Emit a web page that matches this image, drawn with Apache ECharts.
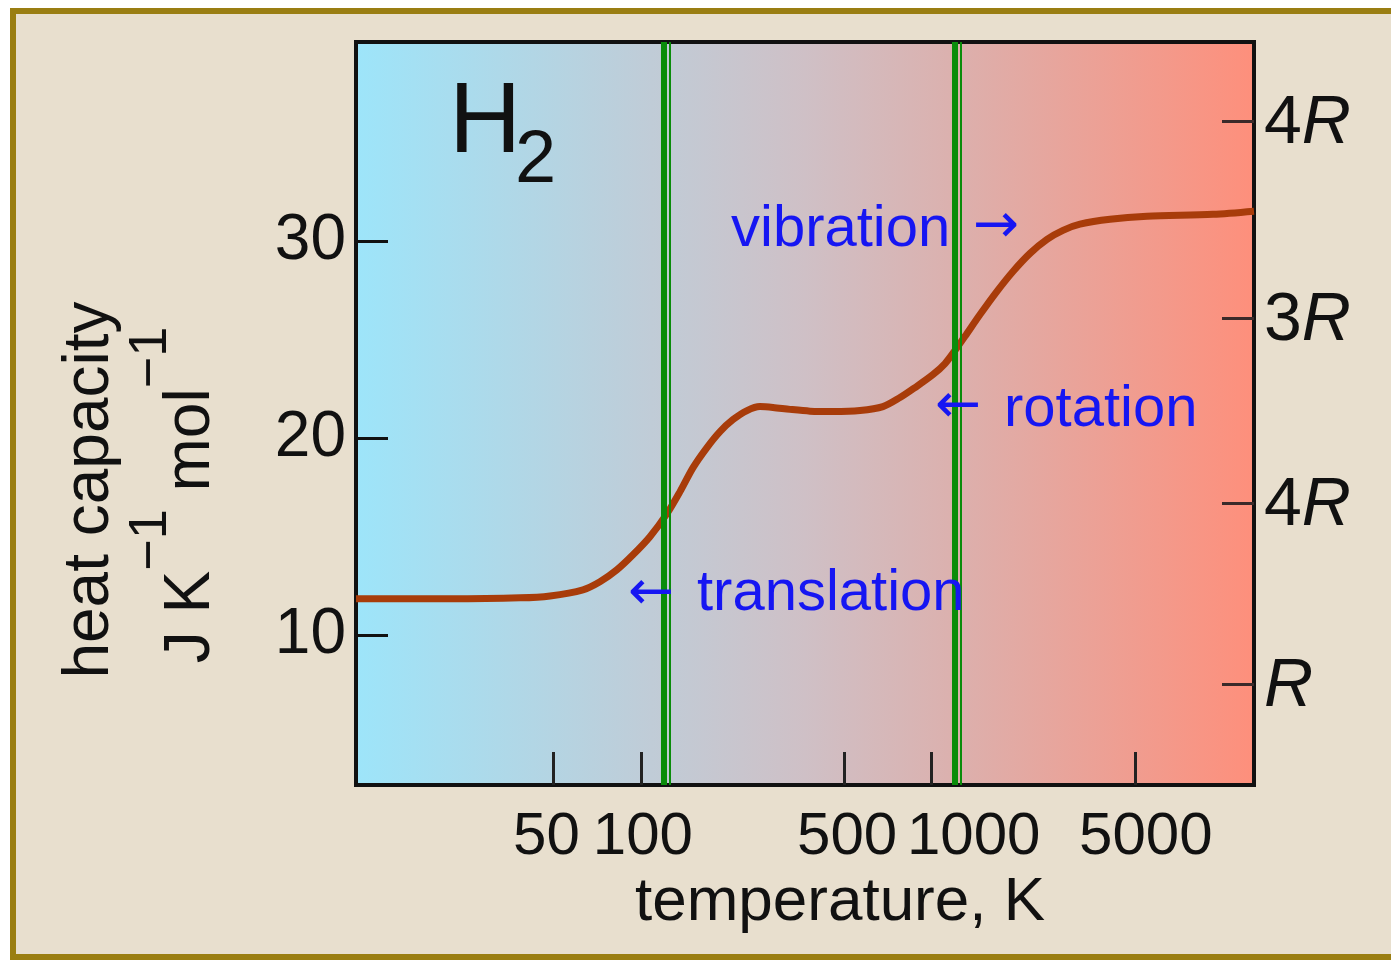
<!DOCTYPE html>
<html>
<head>
<meta charset="utf-8">
<script src="https://cdn.jsdelivr.net/npm/echarts@6/dist/echarts.min.js"></script>
<style>
  html, body { margin: 0; padding: 0; width: 1391px; height: 960px; overflow: hidden; background: #ffffff; position: relative; }
  .fr { position: absolute; }
  #bg { left: 10px; top: 8px; width: 1381px; height: 952px; background: #e8dfce; }
  #bt { left: 10px; top: 8px; width: 1381px; height: 6px; background: #9a7e12; }
  #bl { left: 10px; top: 8px; width: 6px; height: 952px; background: #9a7e12; }
  #bb { left: 10px; top: 954px; width: 1381px; height: 6px; background: #9a7e12; }
  #chart { position: absolute; left: 0; top: 0; width: 1391px; height: 960px; }
</style>
</head>
<body>
<div class="fr" id="bg"></div>
<div class="fr" id="bt"></div>
<div class="fr" id="bl"></div>
<div class="fr" id="bb"></div>
<div id="chart"></div>
<script>
// ---- data ----
const temperatureK = [10.47, 22.0, 38.4, 48.7, 63.2, 72.3, 82.7, 93.9, 107.4, 122.9, 136.3, 151.1, 168.7, 187.1, 207.4, 231.7, 256.8, 284.7, 325.6, 381.6, 457.9, 567.1, 680.1, 778.4, 876.7, 1011, 1112, 1203, 1302, 1467, 1678, 1905, 2180, 2494, 2830, 3239, 4108, 5506, 9288, 12850];
const heatCapacity = [11.83, 11.83, 11.88, 11.98, 12.29, 12.70, 13.31, 14.07, 14.99, 16.16, 17.28, 18.50, 19.52, 20.33, 20.94, 21.40, 21.60, 21.56, 21.46, 21.37, 21.35, 21.40, 21.60, 22.06, 22.57, 23.23, 23.79, 24.45, 25.17, 26.28, 27.46, 28.47, 29.39, 30.10, 30.56, 30.87, 31.12, 31.27, 31.37, 31.53];
const axisRangeT = [10.47, 12850];
const axisRangeC = [2.37, 40.13];
const xTickT = [50, 100, 500, 1000, 5000];
const yTicks = [10, 20, 30];
const rightTickValues = [7.5, 16.7, 26.1, 36.1];
const rightTickLabels = ['R', '4R', '3R', '4R'];
const boundaryThickT = [119, 1193];
const boundaryThinT = [125, 1252];

const FONT = "'Liberation Sans', Arial, Helvetica, sans-serif";
const ARROWFONT = "'DejaVu Sans', sans-serif";
const BLUE = '#1616f2';
const lg = v => Math.log10(v);

const curve = temperatureK.map((t, i) => [lg(t), heatCapacity[i]]);

// per-label horizontal nudge (px) for the x labels, as in the reference
const xLabelShift = { 50: -7, 100: 2, 500: 3, 1000: 42, 5000: 11 };
const xRich = {};
xTickT.forEach(t => {
  const s = xLabelShift[t] || 0;
  xRich['t' + t] = { fontSize: 60, fontFamily: FONT, color: '#111',
    padding: [0, s < 0 ? -2 * s : 0, 0, s > 0 ? 2 * s : 0] };
});

const gradient = new echarts.graphic.LinearGradient(0, 0, 1, 0, [
  { offset: 0, color: '#9de5fa' },
  { offset: 0.33, color: '#c0ccd7' },
  { offset: 0.5, color: '#cfc0c6' },
  { offset: 0.67, color: '#dcb0ad' },
  { offset: 1, color: '#fe8f7b' }
]);

const chart = echarts.init(document.getElementById('chart'), null, { renderer: 'canvas' });

const option = {
  animation: false,
  backgroundColor: 'transparent',
  grid: {
    left: 356, top: 42, width: 898, height: 743,
    show: true, backgroundColor: gradient, borderColor: '#111', borderWidth: 4,
    containLabel: false, outerBoundsMode: 'none'
  },
  xAxis: {
    type: 'value', min: lg(axisRangeT[0]), max: lg(axisRangeT[1]),
    axisLine: { show: false }, splitLine: { show: false },
    axisTick: { show: true, inside: true, length: 33, customValues: xTickT.map(lg),
      lineStyle: { color: '#222', width: 3 } },
    axisLabel: {
      show: true, margin: 22, customValues: xTickT.map(lg),
      formatter: v => { const t = Math.round(Math.pow(10, v)); return '{t' + t + '|' + t + '}'; },
      rich: xRich, fontSize: 60, fontFamily: FONT, color: '#111'
    }
  },
  yAxis: [
    {
      type: 'value', min: axisRangeC[0], max: axisRangeC[1], position: 'left',
      axisLine: { show: false }, splitLine: { show: false },
      axisTick: { show: true, inside: true, length: 32, customValues: yTicks,
        lineStyle: { color: '#111', width: 3 } },
      axisLabel: { show: true, margin: 10, customValues: yTicks, fontSize: 64, fontFamily: FONT, color: '#111' }
    },
    {
      type: 'value', min: axisRangeC[0], max: axisRangeC[1], position: 'right',
      axisLine: { show: false }, splitLine: { show: false },
      axisTick: { show: true, inside: true, length: 32, customValues: rightTickValues,
        lineStyle: { color: '#3a2a2a', width: 3 } },
      axisLabel: {
        show: true, margin: 10, customValues: rightTickValues,
        formatter: v => {
          let k = 0, d = Infinity;
          rightTickValues.forEach((r, i) => { if (Math.abs(r - v) < d) { d = Math.abs(r - v); k = i; } });
          const lab = rightTickLabels[k];
          const num = lab.slice(0, -1);
          return (num ? '{n|' + num + '}' : '') + '{i|R}';
        },
        rich: {
          n: { fontSize: 68, fontFamily: FONT, color: '#111', padding: [6, 0, 0, 0] },
          i: { fontSize: 68, fontFamily: FONT, fontStyle: 'italic', color: '#111', padding: [6, 0, 0, 0] }
        }
      }
    }
  ],
  series: [
    {
      type: 'line', data: curve, smooth: 0.3, showSymbol: false, z: 2,
      lineStyle: { color: '#a83c0a', width: 7 }
    },
    {
      type: 'line', data: [], z: 3,
      markLine: {
        silent: true, symbol: ['none', 'none'], label: { show: false },
        data: [
          ...boundaryThickT.map(t => ({ xAxis: lg(t), lineStyle: { color: '#0a8c0a', width: 6, type: 'solid' } })),
          ...boundaryThinT.map(t => ({ xAxis: lg(t), lineStyle: { color: '#0a8c0a', width: 2, type: 'solid' } }))
        ]
      }
    }
  ],
  graphic: [
    { type: 'text', x: 449, y: 124, z: 10,
      style: { text: 'H', fontSize: 100, fontFamily: FONT, fill: '#111', align: 'left', verticalAlign: 'middle' } },
    { type: 'text', x: 515, y: 162, z: 10,
      style: { text: '2', fontSize: 74, fontFamily: FONT, fill: '#111', align: 'left', verticalAlign: 'middle' } },

    { type: 'text', x: 731, y: 230, z: 10,
      style: { text: 'vibration', fontSize: 58, fontFamily: FONT, fill: BLUE, align: 'left', verticalAlign: 'middle' } },
    { type: 'text', x: 996, y: 228, z: 10,
      style: { text: '→', fontSize: 55, fontFamily: ARROWFONT, fill: BLUE, align: 'center', verticalAlign: 'middle' } },

    { type: 'text', x: 958, y: 408, z: 10,
      style: { text: '←', fontSize: 55, fontFamily: ARROWFONT, fill: BLUE, align: 'center', verticalAlign: 'middle' } },
    { type: 'text', x: 1004, y: 410, z: 10,
      style: { text: 'rotation', fontSize: 58, fontFamily: FONT, fill: BLUE, align: 'left', verticalAlign: 'middle' } },

    { type: 'text', x: 651, y: 595, z: 10,
      style: { text: '←', fontSize: 55, fontFamily: ARROWFONT, fill: BLUE, align: 'center', verticalAlign: 'middle' } },
    { type: 'text', x: 697, y: 594, z: 10,
      style: { text: 'translation', fontSize: 58, fontFamily: FONT, fill: BLUE, align: 'left', verticalAlign: 'middle' } },

    { type: 'text', x: 840, y: 903, z: 10,
      style: { text: 'temperature, K', fontSize: 62, fontFamily: FONT, fill: '#111', align: 'center', verticalAlign: 'middle' } },

    { type: 'text', x: 90, y: 490, rotation: Math.PI / 2, z: 10,
      style: { text: 'heat capacity', fontSize: 64, fontFamily: FONT, fill: '#111', align: 'center', verticalAlign: 'middle' } },
    { type: 'text', x: 191, y: 495, rotation: Math.PI / 2, z: 10,
      style: {
        text: '{n|J K}{s|−1}{n| mol}{s|−1}', align: 'center', verticalAlign: 'middle', fill: '#111',
        rich: {
          n: { fontSize: 64, lineHeight: 64, fontFamily: FONT, fill: '#111', verticalAlign: 'bottom' },
          s: { fontSize: 54, lineHeight: 54, fontFamily: FONT, fill: '#111', verticalAlign: 'bottom', padding: [0, 0, 45, 0] }
        }
      } }
  ]
};
chart.setOption(option);
</script>
</body>
</html>
